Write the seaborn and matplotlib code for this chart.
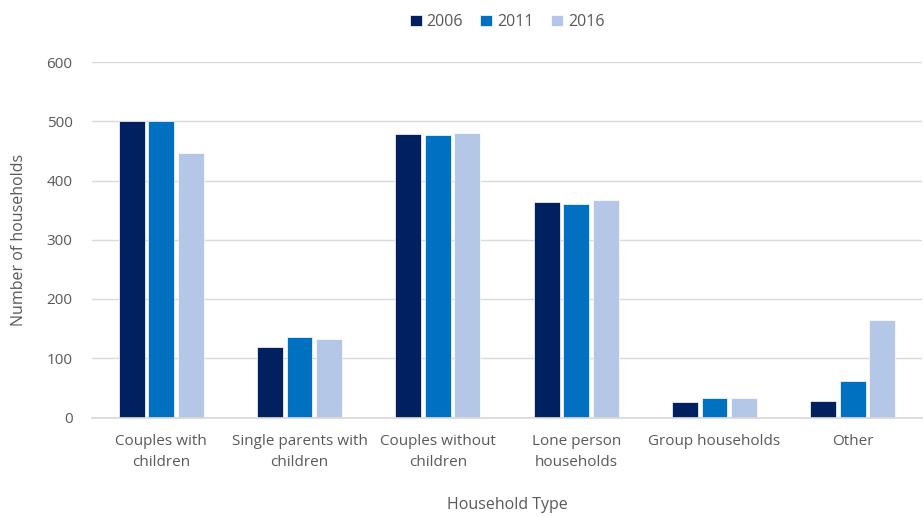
import matplotlib
matplotlib.use("Agg")
import matplotlib.pyplot as plt
import seaborn as sns
import pandas as pd

categories = ["Couples with\nchildren", "Single parents with\nchildren", "Couples without\nchildren",
              "Lone person\nhouseholds", "Group households", "Other"]
years = ["2006", "2011", "2016"]
v2006 = [500, 119, 478, 363, 26, 28]
v2011 = [500, 136, 477, 360, 33, 62]
v2016 = [446, 133, 481, 367, 33, 164]
colors = ["#002060", "#0070C0", "#B4C7E7"]

rows = []
for y, vals in zip(years, [v2006, v2011, v2016]):
    for c, v in zip(categories, vals):
        rows.append({"cat": c, "year": y, "value": v})
df = pd.DataFrame(rows)

sns.set_theme(style="white")
plt.rcParams['font.family'] = ['Open Sans', 'DejaVu Sans']
txt = "#595959"

fig = plt.figure(figsize=(9.23, 5.17), dpi=100)
ax = fig.add_axes([92/923, 1 - 417.5/517, (922-92)/923, (417.5-62)/517])
sns.barplot(data=df, x="cat", y="value", hue="year", palette=colors, width=0.64, gap=0.12,
            saturation=1, ax=ax, order=categories, hue_order=years, edgecolor="white", linewidth=0.5)

ax.set_ylim(0, 600)
ax.set_yticks(range(0, 601, 100))
ax.yaxis.grid(True, color="#D9D9D9", linewidth=1)
ax.set_axisbelow(True)
for s in ["top", "right", "left"]:
    ax.spines[s].set_visible(False)
ax.spines["bottom"].set_color("#D9D9D9")
ax.tick_params(axis="both", length=0, colors=txt, labelsize=11)
ax.tick_params(axis="y", pad=14)
ax.tick_params(axis="x", pad=12)
for lab in ax.get_xticklabels():
    lab.set_linespacing(1.5)
ax.set_xlabel("Household Type", color=txt, fontsize=11.5, labelpad=20)
ax.set_ylabel("Number of households", color=txt, fontsize=11.5, labelpad=14)

ax.legend(loc="upper center", bbox_to_anchor=(0.5, 1.175), ncol=3, frameon=False,
          fontsize=11.5, labelcolor=txt, handlelength=0.75, handleheight=0.75,
          handletextpad=0.3, columnspacing=1.1)
fig.savefig("out.png", dpi=100)
